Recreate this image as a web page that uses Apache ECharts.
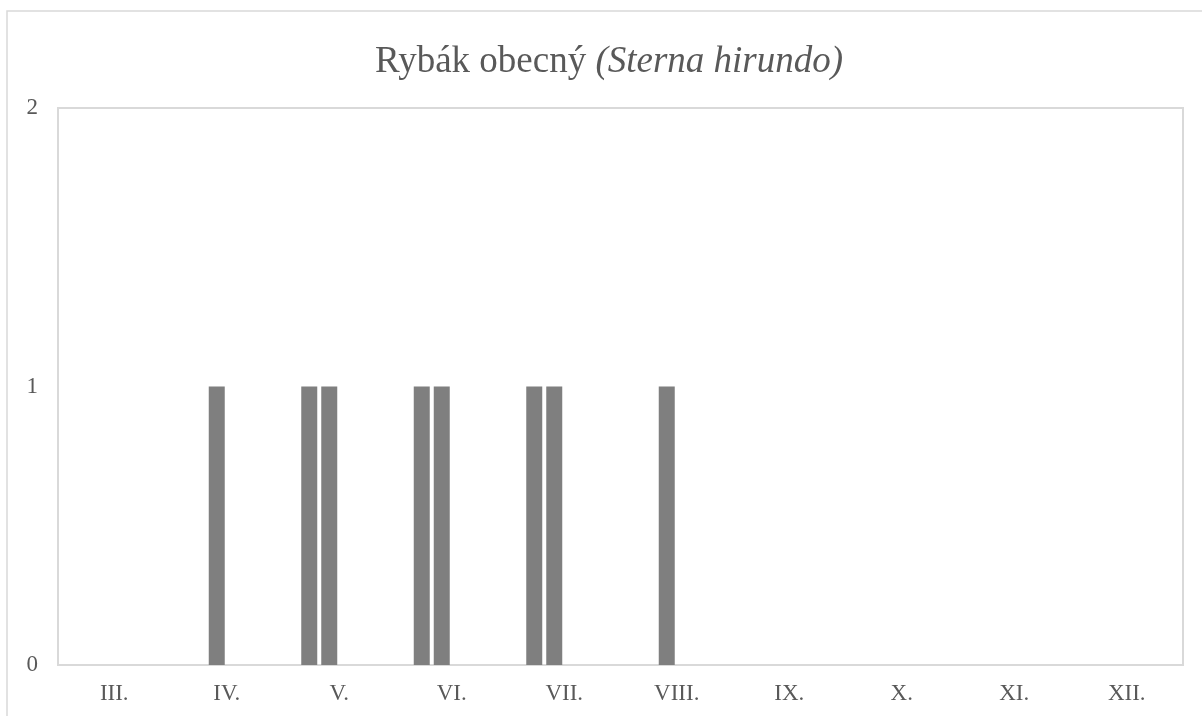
<!DOCTYPE html>
<html>
<head>
<meta charset="utf-8">
<script src="https://cdn.jsdelivr.net/npm/echarts@6/dist/echarts.min.js"></script>
<style>
  html, body { margin: 0; padding: 0; background: #ffffff; }
  #chart { width: 1202px; height: 716px; }
</style>
</head>
<body>
<div id="chart"></div>
<script>
// Months (Roman numerals) on the category axis
const months = ['III.', 'IV.', 'V.', 'VI.', 'VII.', 'VIII.', 'IX.', 'X.', 'XI.', 'XII.'];

// Records per week of each month
const week1 = [0, 0, 1, 1, 1, 0, 0, 0, 0, 0];
const week2 = [0, 1, 1, 1, 1, 1, 0, 0, 0, 0];
const week3 = [0, 0, 0, 0, 0, 0, 0, 0, 0, 0];
const week4 = [0, 0, 0, 0, 0, 0, 0, 0, 0, 0];

const yTicks = [0, 1, 2];

const weeks = [
  { name: '1. týden', data: week1 },
  { name: '2. týden', data: week2 },
  { name: '3. týden', data: week3 },
  { name: '4. týden', data: week4 }
];

const chart = echarts.init(document.getElementById('chart'), null, { renderer: 'canvas' });

const serif = '"Liberation Serif", "DejaVu Serif", serif';
const textColor = '#595959';

chart.setOption({
  animation: false,
  backgroundColor: '#ffffff',
  title: {
    text: '{n|Rybák obecný }{i|(Sterna hirundo)}',
    left: 604,
    top: 39,
    textAlign: 'center',
    textStyle: {
      fontWeight: 'normal',
      rich: {
        n: { fontFamily: serif, fontSize: 37, fontWeight: 'normal', color: textColor },
        i: { fontFamily: serif, fontSize: 37, fontWeight: 'normal', fontStyle: 'italic', color: textColor }
      }
    }
  },
  graphic: [{
    type: 'rect',
    shape: { x: 7, y: 11, width: 1400, height: 900 },
    style: { fill: 'none', stroke: '#d9d9d9', lineWidth: 1.5 },
    silent: true,
    z: -1
  }],
  grid: {
    left: 58,
    top: 108,
    width: 1125,
    height: 557,
    show: true,
    borderColor: '#d9d9d9',
    borderWidth: 2,
    containLabel: false
  },
  xAxis: {
    type: 'category',
    data: months,
    axisLine: { show: true, lineStyle: { color: '#d9d9d9', width: 2 } },
    axisTick: { show: false },
    axisLabel: {
      margin: 17,
      fontFamily: serif,
      fontSize: 23,
      color: textColor
    },
    splitLine: { show: false }
  },
  yAxis: {
    type: 'value',
    min: yTicks[0],
    max: yTicks[yTicks.length - 1],
    interval: 1,
    axisLine: { show: false },
    axisTick: { show: false },
    splitLine: { show: false },
    axisLabel: {
      margin: 20,
      fontFamily: serif,
      fontSize: 23,
      color: textColor
    }
  },
  series: weeks.map(w => ({
    name: w.name,
    type: 'bar',
    data: w.data,
    barWidth: 16,
    barGap: '25%',
    itemStyle: { color: '#7f7f7f' }
  }))
});
</script>
</body>
</html>
